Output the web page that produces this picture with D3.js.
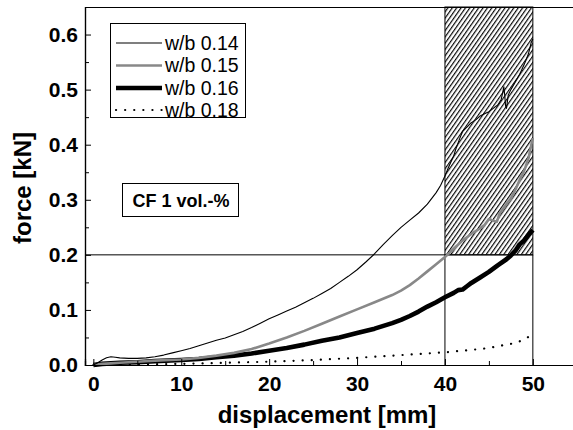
<!DOCTYPE html>
<html><head><meta charset="utf-8">
<script src="https://cdn.jsdelivr.net/npm/d3@7"></script>
<style>
html,body{margin:0;padding:0;background:#fff;}
svg{display:block;font-family:"Liberation Sans",Arial,Helvetica,sans-serif;}
</style></head>
<body>
<svg id="chart" width="573" height="430"></svg>
<script>
// ---- data ----
const seriesNames = ["w/b 0.14", "w/b 0.15", "w/b 0.16", "w/b 0.18"];
const x014 = [0,0.5,1,1.5,2,2.5,3,4,5,6,7,8,9,10,11,12,13,14,15,16,17,18,19,20,21,22,23,24,25,26,27,28,29,30,31,32,33,34,35,36,37,38,39,39.5,40,40.3,40.6,41,41.3,41.7,42,42.5,43,43.5,44,44.5,45,45.5,46,46.4,46.7,46.8,46.9,47.0,47.2,47.5,48,48.5,49,49.5,49.8,50];
const y014 = [0,0.004,0.009,0.013,0.015,0.014,0.013,0.012,0.012,0.013,0.015,0.018,0.022,0.026,0.030,0.035,0.040,0.045,0.049,0.055,0.061,0.068,0.076,0.084,0.091,0.098,0.105,0.113,0.121,0.130,0.139,0.150,0.161,0.173,0.187,0.202,0.219,0.235,0.250,0.263,0.276,0.292,0.313,0.326,0.343,0.355,0.366,0.380,0.395,0.412,0.424,0.432,0.440,0.445,0.452,0.456,0.460,0.466,0.472,0.482,0.505,0.490,0.470,0.466,0.490,0.500,0.514,0.528,0.545,0.565,0.585,0.592];
const x015 = [0,1,2,3,5,7,10,12,14,16,18,20,22,24,26,28,30,32,34,35,36,37,38,39,40,41,42,43,44,44.5,45,45.5,45.9,46.2,47,47.5,48,48.5,49,49.5,49.8,50];
const y015 = [0,0.002,0.003,0.004,0.006,0.008,0.010,0.013,0.017,0.022,0.029,0.039,0.050,0.062,0.075,0.088,0.101,0.114,0.127,0.135,0.145,0.157,0.170,0.183,0.196,0.211,0.226,0.238,0.248,0.254,0.265,0.262,0.260,0.274,0.292,0.302,0.318,0.336,0.352,0.375,0.398,0.412];
const x016 = [0,1,2,3,5,7,10,12,14,16,18,20,22,24,26,28,30,32,34,35,36,37,38,39,40,41,41.5,42,42.5,43,44,45,46,47,47.5,48,48.5,49,49.5,50];
const y016 = [0,0.002,0.003,0.004,0.005,0.007,0.009,0.011,0.014,0.017,0.021,0.026,0.031,0.037,0.044,0.050,0.058,0.066,0.076,0.082,0.089,0.097,0.106,0.114,0.123,0.131,0.136,0.137,0.143,0.149,0.159,0.169,0.181,0.192,0.199,0.207,0.219,0.226,0.236,0.245];
const x018 = [0,5,10,15,20,25,30,32,34,36,38,40,42,44,45,46,47,48,48.5,49,49.5,50];
const y018 = [0,0.001,0.002,0.004,0.006,0.009,0.013,0.015,0.017,0.019,0.021,0.023,0.026,0.029,0.031,0.034,0.037,0.040,0.043,0.047,0.051,0.055];
const xTicks = [0,10,20,30,40,50];
const xMinor = [5,15,25,35,45,55];
const yTicks = [0,0.1,0.2,0.3,0.4,0.5,0.6];
const yMinor = [0.05,0.15,0.25,0.35,0.45,0.55];
const annotation = "CF 1 vol.-%";
const xLabel = "displacement [mm]";
const yLabel = "force [kN]";
// hatched region and guide lines
const hatchX = [40, 50];
const hatchY = [0.2, 0.65];

// ---- layout ----
const L = 85, R = 577, T = 7, B = 365;
const x = d3.scaleLinear().domain([-0.95, 55]).range([L, L + 55.95 * 8.79]);
const y = d3.scaleLinear().domain([0, 0.65]).range([B, T]);
const svg = d3.select("#chart");

// hatch pattern
const defs = svg.append("defs");
const pat = defs.append("pattern").attr("id","hatch").attr("patternUnits","userSpaceOnUse")
  .attr("width",3.6).attr("height",10).attr("patternTransform","rotate(35)");
pat.append("rect").attr("width",3.6).attr("height",10).attr("fill","#fff");
pat.append("line").attr("x1",0.6).attr("y1",0).attr("x2",0.6).attr("y2",10).attr("stroke","#000").attr("stroke-width",1.15);

svg.append("rect").attr("x",x(hatchX[0])).attr("y",y(hatchY[1]))
  .attr("width",x(hatchX[1])-x(hatchX[0])).attr("height",y(hatchY[0])-y(hatchY[1]))
  .attr("fill","url(#hatch)").attr("stroke","#000").attr("stroke-width",1);

// guide lines
const g = svg.append("g").attr("stroke","#000").attr("stroke-width",1).attr("fill","none");
g.append("line").attr("x1",L).attr("x2",x(hatchX[1])).attr("y1",y(hatchY[0])).attr("y2",y(hatchY[0]));
hatchX.forEach(v => g.append("line").attr("x1",x(v)).attr("x2",x(v)).attr("y1",y(0)).attr("y2",y(hatchY[0])));
// top frame
g.append("line").attr("x1",L).attr("x2",573).attr("y1",T+0.5).attr("y2",T+0.5);

// series
const line = d3.line().x(d=>x(d[0])).y(d=>y(d[1]));
const zip = (a,b) => a.map((v,i)=>[v,b[i]]);
const styles = [
  {stroke:"#000", w:1.1, dash:null, cap:"butt"},
  {stroke:"#888", w:2.6, dash:null, cap:"butt"},
  {stroke:"#000", w:4.6, dash:null, cap:"butt"},
  {stroke:"#000", w:2.2, dash:"0.1,9", cap:"round"}
];
const data = [zip(x014,y014), zip(x015,y015), zip(x016,y016), zip(x018,y018)];
[3,2,1,0].forEach(i=>{
  svg.append("path").datum(data[i]).attr("d",line).attr("fill","none")
    .attr("stroke",styles[i].stroke).attr("stroke-width",styles[i].w)
    .attr("stroke-linejoin","round").attr("stroke-linecap", styles[i].cap)
    .attr("stroke-dasharray",styles[i].dash);
});

// axes
const fmtY = d3.format(".1f");
svg.append("g").attr("transform",`translate(${L},0)`)
  .call(d3.axisLeft(y).tickValues(yTicks).tickSize(-6).tickPadding(7).tickFormat(fmtY));
svg.append("g").attr("transform",`translate(${L},0)`)
  .call(d3.axisLeft(y).tickValues(yMinor).tickSize(-4).tickFormat(""));
svg.append("g").attr("transform",`translate(0,${B})`)
  .call(d3.axisBottom(x).tickValues(xTicks).tickSize(-6).tickPadding(11).tickFormat(d3.format("d")));
svg.append("g").attr("transform",`translate(0,${B})`)
  .call(d3.axisBottom(x).tickValues(xMinor).tickSize(-4).tickFormat(""));
svg.selectAll(".domain").attr("stroke","#000").attr("stroke-width",1.2);
svg.selectAll(".tick line").attr("stroke","#000").attr("stroke-width",1);
svg.selectAll(".tick text").attr("font-family","'Liberation Sans',Arial,sans-serif")
  .attr("font-size",21).attr("font-weight","bold").attr("fill","#000");

// axis titles
svg.append("text").attr("x",327).attr("y",423).attr("text-anchor","middle").attr("fill","#000")
  .attr("font-size",24).attr("font-weight","bold").text(xLabel);
svg.append("text").attr("transform",`translate(31,188) rotate(-90)`).attr("text-anchor","middle").attr("fill","#000")
  .attr("font-size",24).attr("font-weight","bold").text(yLabel);

// legend
const lg = svg.append("g");
lg.append("rect").attr("x",110.5).attr("y",23.5).attr("width",135).attr("height",94)
  .attr("fill","#fff").attr("stroke","#000").attr("stroke-width",1);
const rowsY = [43, 65.5, 88, 110];
seriesNames.forEach((n,i)=>{
  lg.append("line").attr("x1",116).attr("x2",162).attr("y1",rowsY[i]).attr("y2",rowsY[i])
    .attr("stroke",styles[i].stroke).attr("stroke-width",styles[i].w)
    .attr("stroke-dasharray", styles[i].dash).attr("stroke-linecap", styles[i].cap);
  lg.append("text").attr("x",165).attr("y",rowsY[i]+6.5).attr("font-size",19.5).attr("fill","#000").text(n);
});

// annotation box
svg.append("rect").attr("x",122.5).attr("y",183.5).attr("width",116).attr("height",33)
  .attr("fill","#fff").attr("stroke","#000").attr("stroke-width",1);
svg.append("text").attr("x",181).attr("y",206.5).attr("text-anchor","middle").attr("fill","#000")
  .attr("font-size",18).attr("font-weight","bold").text(annotation);
</script>
</body></html>
